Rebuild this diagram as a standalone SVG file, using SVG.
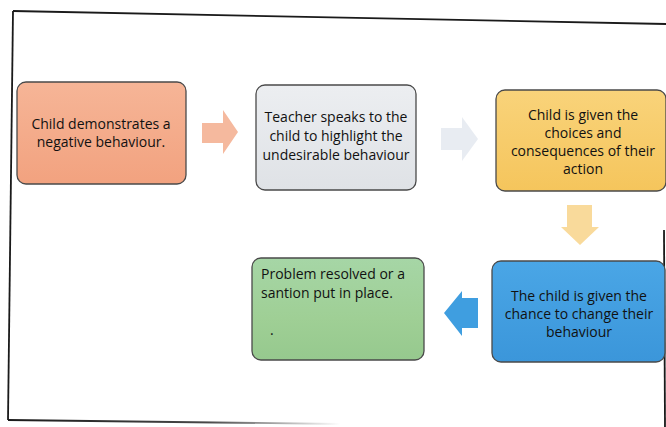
<svg xmlns="http://www.w3.org/2000/svg" width="666" height="427" viewBox="0 0 666 427">
  <style>
    .box { stroke: #4a4a4a; stroke-width: 1.3; }
    .lbl { font-family: "Open Sans", "Liberation Sans", Arial, sans-serif; font-size: 14px; fill: #111111; }
    .mid { text-anchor: middle; }
    .frame { fill: none; stroke: #1a1a1a; stroke-width: 1.8; }
  </style>
  <defs>
    <linearGradient id="gOrange" x1="0" y1="0" x2="0" y2="1">
      <stop offset="0" stop-color="#f6b597"/>
      <stop offset="1" stop-color="#f2a27f"/>
    </linearGradient>
    <linearGradient id="gGray" x1="0" y1="0" x2="0" y2="1">
      <stop offset="0" stop-color="#eceef1"/>
      <stop offset="1" stop-color="#dfe2e6"/>
    </linearGradient>
    <linearGradient id="gYellow" x1="0" y1="0" x2="0" y2="1">
      <stop offset="0" stop-color="#f9d37a"/>
      <stop offset="1" stop-color="#f5c55c"/>
    </linearGradient>
    <linearGradient id="gBlue" x1="0" y1="0" x2="0" y2="1">
      <stop offset="0" stop-color="#4aa6e6"/>
      <stop offset="1" stop-color="#3b96da"/>
    </linearGradient>
    <linearGradient id="gGreen" x1="0" y1="0" x2="0" y2="1">
      <stop offset="0" stop-color="#a6d6a6"/>
      <stop offset="0.6" stop-color="#9fcf95"/>
      <stop offset="1" stop-color="#96c98e"/>
    </linearGradient>
    <linearGradient id="gFade" x1="0" y1="0" x2="1" y2="0">
      <stop offset="0" stop-color="#1a1a1a" stop-opacity="1"/>
      <stop offset="0.6" stop-color="#1a1a1a" stop-opacity="0.8"/>
      <stop offset="1" stop-color="#1a1a1a" stop-opacity="0"/>
    </linearGradient>
  </defs>

  <rect width="666" height="427" fill="#ffffff"/>

  <!-- page frame -->
  <path class="frame" d="M13,11 L666,24"/>
  <path class="frame" d="M13,11 L8,420"/>
  <path d="M8,420 L340,424" fill="none" stroke="url(#gFade)" stroke-width="1.8"/>
  <path class="frame" d="M664,230 L665,427"/>

  <!-- connectors -->
  <g id="connectors">
    <polygon points="202,123 223,123 223,110 238,132 223,154 223,143 202,143" fill="#f3ad8d" opacity="0.85"/>
    <polygon points="441,128 462,128 462,117 478,139 462,161 462,150 441,150" fill="#e6eaf1" opacity="0.9"/>
    <polygon points="567,205 592,205 592,227 599,227 580,245 561,227 567,227" fill="#f8d48a" opacity="0.85"/>
    <polygon points="478,298 462,298 462,291 444,313 462,336 462,328 478,328" fill="#3f9ee0"/>
  </g>

  <g id="node-behaviour">
    <rect class="box" x="17" y="82" width="169" height="102" rx="9" fill="url(#gOrange)"/>
    <text class="lbl mid" x="101" y="129">Child demonstrates a</text>
    <text class="lbl mid" x="101" y="147">negative behaviour.</text>
  </g>

  <g id="node-teacher">
    <rect class="box" x="256" y="85" width="160" height="105" rx="9" fill="url(#gGray)"/>
    <text class="lbl mid" x="336" y="122">Teacher speaks to the</text>
    <text class="lbl mid" x="336" y="141">child to highlight the</text>
    <text class="lbl mid" x="336" y="160">undesirable behaviour</text>
  </g>

  <g id="node-choices">
    <rect class="box" x="496" y="90" width="170" height="101" rx="9" fill="url(#gYellow)"/>
    <text class="lbl mid" x="583" y="120">Child is given the</text>
    <text class="lbl mid" x="583" y="138">choices and</text>
    <text class="lbl mid" x="583" y="156">consequences of their</text>
    <text class="lbl mid" x="583" y="174">action</text>
  </g>

  <g id="node-chance">
    <rect class="box" x="492" y="261" width="173" height="101" rx="9" fill="url(#gBlue)"/>
    <text class="lbl mid" x="579" y="301">The child is given the</text>
    <text class="lbl mid" x="579" y="319">chance to change their</text>
    <text class="lbl mid" x="579" y="337">behaviour</text>
  </g>

  <g id="node-resolved">
    <rect class="box" x="252" y="258" width="172" height="102" rx="9" fill="url(#gGreen)"/>
    <text class="lbl" x="261" y="279">Problem resolved or a</text>
    <text class="lbl" x="261" y="298">santion put in place.</text>
    <text class="lbl" x="270" y="335">.</text>
  </g>
</svg>
